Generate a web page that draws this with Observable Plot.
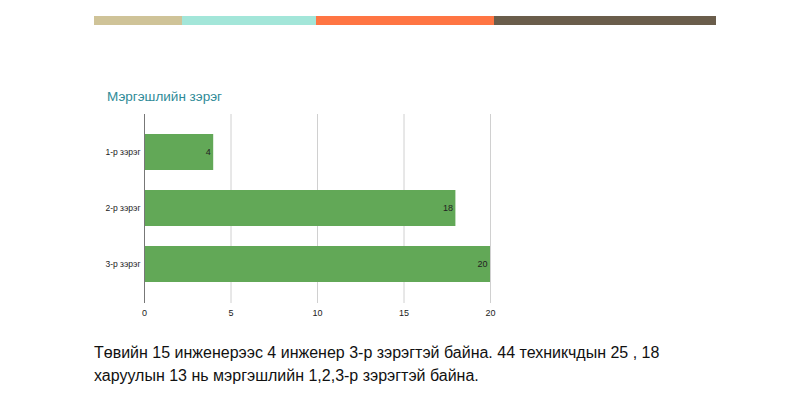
<!DOCTYPE html>
<html><head><meta charset="utf-8">
<script src="https://cdn.jsdelivr.net/npm/d3@7"></script>
<script src="https://cdn.jsdelivr.net/npm/@observablehq/plot@0.6"></script>
<style>
body{margin:0;width:810px;height:396px;position:relative;background:#fff;font-family:"Liberation Sans",Arial,sans-serif;overflow:hidden}
#stripe{position:absolute;left:94px;top:16px;height:9px;display:flex}
#stripe div{height:9px}
#title{position:absolute;left:107px;top:89px;font-size:13.5px;color:#2f8b98;font-family:"Liberation Sans",Arial,sans-serif;white-space:nowrap}
#chart{position:absolute;left:0;top:108px}
#caption{position:absolute;left:94px;top:341px;font-size:16px;line-height:23px;color:#111;white-space:nowrap}
</style></head>
<body>
<div id="stripe"></div>
<div id="title">Мэргэшлийн зэрэг</div>
<div id="chart"></div>
<div id="caption">Төвийн 15 инженерээс 4 инженер 3-р зэрэгтэй байна. 44 техникчдын 25 , 18<br>харуулын 13 нь мэргэшлийн 1,2,3-р зэрэгтэй байна.</div>
<script>
const categories = ["1-р зэрэг", "2-р зэрэг", "3-р зэрэг"];
const values = [4, 18, 20];
const xTicks = [0, 5, 10, 15, 20];
const stripeColors = ["#cfc398", "#a3e6d9", "#ff7543", "#6a5d4b"];
const stripeWidths = [88, 134, 178, 222];

const stripe = document.getElementById("stripe");
stripeColors.forEach((c, i) => {
  const d = document.createElement("div");
  d.style.background = c; d.style.width = stripeWidths[i] + "px";
  stripe.appendChild(d);
});

const data = categories.map((c, i) => ({c, v: values[i]}));
const chart = Plot.plot({
  width: 810, height: 222,
  marginLeft: 144, marginRight: 320, marginTop: 6, marginBottom: 27,
  x: {domain: [0, 20], label: null},
  y: {domain: categories, padding: 0.35, label: null},
  style: {fontFamily: "'Liberation Sans', Arial, sans-serif", fontSize: "8.5px", color: "#222"},
  marks: [
    Plot.gridX(xTicks, {stroke: "#d0d0d0", strokeOpacity: 1}),
    Plot.barX(data, {x: "v", y: "c", fill: "#62a857"}),
    Plot.ruleX([0], {stroke: "#777"}),
    Plot.axisX({ticks: xTicks, tickSize: 0, tickPadding: 6, fontSize: 9, label: null}),
    Plot.axisY({tickSize: 0, tickPadding: 4, label: null}),
    Plot.text(data, {x: "v", y: "c", text: d => String(d.v), textAnchor: "end", dx: -3, fontSize: 9, fill: "#222"})
  ]
});
document.getElementById("chart").appendChild(chart);
</script>
</body></html>
